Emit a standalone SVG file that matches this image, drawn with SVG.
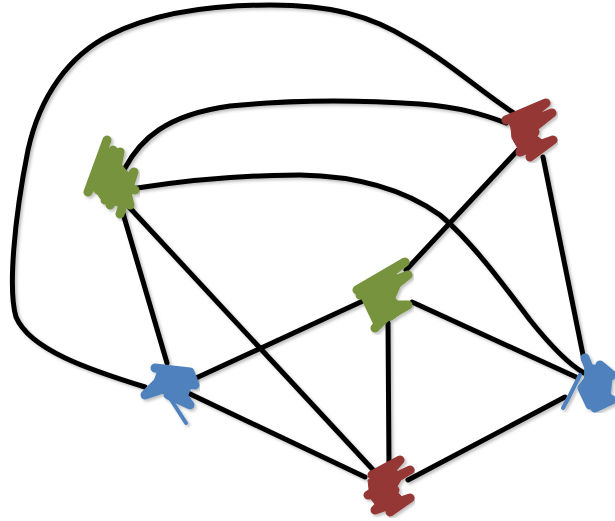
<svg xmlns="http://www.w3.org/2000/svg" width="615" height="521" viewBox="0 0 615 521">
<defs>
<filter id="sh" x="-10%" y="-10%" width="120%" height="120%">
<feDropShadow dx="2" dy="2" stdDeviation="1.5" flood-color="#000" flood-opacity="0.25"/>
</filter>
</defs>
<style>
.e{fill:none;stroke:#000;stroke-width:5;stroke-linecap:round;stroke-linejoin:round}
.s{stroke-width:9;stroke-linecap:round;stroke-linejoin:round;fill:none}
.g{stroke:#77933C;fill:#77933C}
.r{stroke:#953735;fill:#953735}
.b{stroke:#4F81BD;fill:#4F81BD}
</style>
<rect width="615" height="521" fill="#fff"/>
<g id="connectors" filter="url(#sh)">
<path class="e" d="M145,387 C90,370 30,350 16,317 C8,290 14,220 28,150 C40,95 70,55 110,35 C160,10 220,5 270,5 C330,5 370,15 410,40 C450,62 490,100 522,118"/>
<path class="e" d="M125,168 C140,140 165,115 230,106 C290,100 360,100 420,104 C460,107 485,115 506,123"/>
<path class="e" d="M137,188 C190,180 240,175 300,175 C360,176 405,190 440,215 C470,240 500,280 530,320 C550,345 570,365 584,373"/>
<path class="e" d="M122,210 L167,363"/>
<path class="e" d="M129,207 L376,473"/>
<path class="e" d="M518,150 L406,270"/>
<path class="e" d="M543,157 L584,360"/>
<path class="e" d="M365,300 L196,378"/>
<path class="e" d="M412,302 L576,377"/>
<path class="e" d="M388,323 L389,467"/>
<path class="e" d="M188,393 L365,477"/>
<path class="e" d="M565,397 L408,480"/>
</g>
<g id="nodeA" filter="url(#sh)">
<polygon class="g" points="102,160 116,158 130,175 132,195 122,208 100,198 92,185"/>
<path class="s g" d="M107,140 L88,192 L113,150 L105,200 L120,152 L110,205 L134,172 L120,214"/>
<path class="s g" d="M98,190 L130,205 L125,185 L135,190"/>
</g>
<g id="nodeB" filter="url(#sh)">
<polygon class="r" points="510,118 535,110 540,125 535,135 545,142 530,152 520,152 512,138"/>
<path class="s r" d="M506,120 L546,103 L515,128 L552,113 L518,140 L535,132 L520,152 L553,140 L530,157"/>
</g>
<g id="nodeC" filter="url(#sh)">
<polygon class="g" points="365,288 395,272 402,282 395,298 405,310 392,320 380,322 370,308"/>
<path class="s g" d="M357,290 L405,262 L360,295 L408,275 L370,305 L408,305 L385,318 L375,328"/>
</g>
<g id="nodeD" filter="url(#sh)">
<polygon class="b" points="158,370 182,370 192,385 185,402 172,398 160,392 150,392"/>
<path class="s b" d="M155,368 L190,372 L195,385 L160,380 L145,395 L175,385 L190,405 L168,395"/>
<path class="b" d="M168,395 L186,423" stroke-width="4" stroke-linecap="round" fill="none"/>
</g>
<g id="nodeE" filter="url(#sh)">
<polygon class="b" points="585,365 600,365 612,375 610,402 592,405 584,385"/>
<path class="s b" d="M585,358 L592,375 L582,388 L590,405 M600,365 L612,375 L595,390 L612,400 L595,408"/>
<path class="b" d="M580,375 L570,395 L563,408" stroke-width="4" stroke-linecap="round" fill="none"/>
</g>
<g id="nodeF" filter="url(#sh)">
<polygon class="r" points="368,480 395,468 402,478 395,490 405,500 392,510 380,510 370,498"/>
<path class="s r" d="M372,475 L400,460 L378,485 L410,470 L368,495 L395,490 L375,510 L410,498 L390,512"/>
</g>
</svg>
